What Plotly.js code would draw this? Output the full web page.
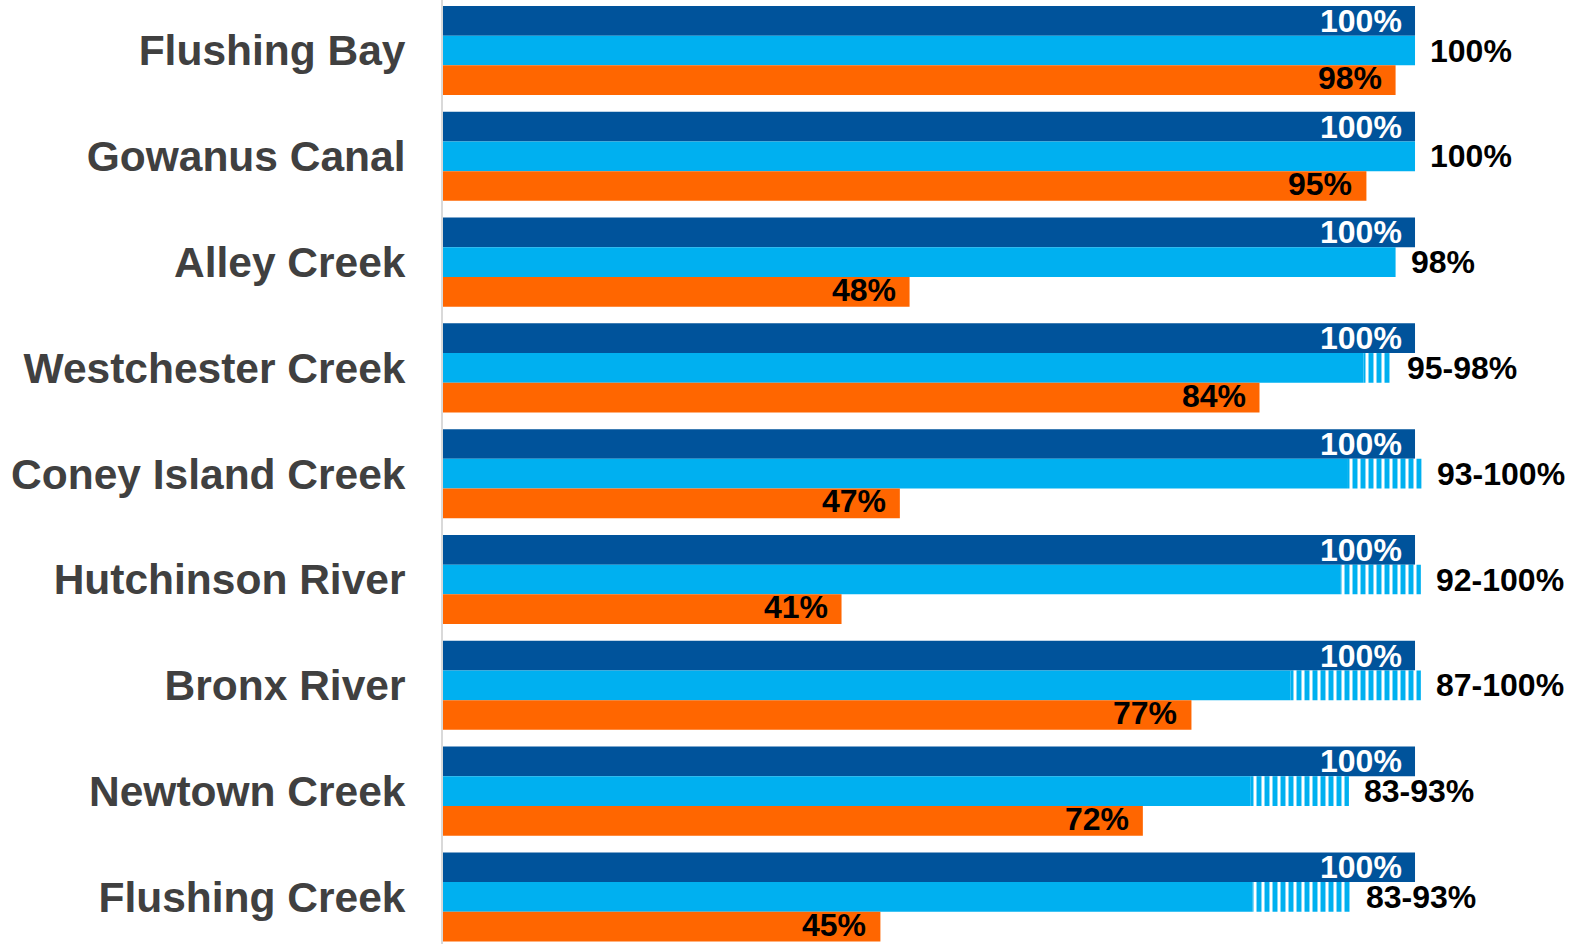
<!DOCTYPE html>
<html>
<head>
<meta charset="utf-8">
<script src="https://cdn.plot.ly/plotly-3.0.1.min.js"></script>
<style>
  html, body { margin: 0; padding: 0; background: #ffffff; }
  #chart { width: 1572px; height: 944px; }
</style>
</head>
<body>
<div id="chart"></div>
<script>
// ---- data ----
var categories = ["Flushing Bay", "Gowanus Canal", "Alley Creek", "Westchester Creek",
  "Coney Island Creek", "Hutchinson River", "Bronx River", "Newtown Creek", "Flushing Creek"];
var darkValues = [100, 100, 100, 100, 100, 100, 100, 100, 100];
var lightValues = [100, 100, 98, 94.7, 93.1, 92.3, 87.2, 83.1, 83.3];
var rangeHigh = [null, null, null, 97.6, 100.7, 100.6, 100.6, 93.2, 93.4];
var orangeValues = [98, 95, 48, 84, 47, 41, 77, 72, 45];
var darkLabels = ["100%", "100%", "100%", "100%", "100%", "100%", "100%", "100%", "100%"];
var lightLabels = ["100%", "100%", "98%", "95-98%", "93-100%", "92-100%", "87-100%", "83-93%", "83-93%"];
var orangeLabels = ["98%", "95%", "48%", "84%", "47%", "41%", "77%", "72%", "45%"];

// ---- style ----
var DARK = "#00539B", LIGHT = "#00B0F0", ORANGE = "#FF6600";
var FONT = "Liberation Sans, Arial, sans-serif";
var bargap = 0.158;
var w = (1 - bargap) / 3;

var rangeLen = rangeHigh.map(function (h, i) { return h == null ? null : h - lightValues[i]; });

var traces = [
  { type: "bar", orientation: "h", y: categories, x: darkValues, offsetgroup: "a",
    marker: { color: DARK, line: { width: 0 } }, hoverinfo: "skip" },
  { type: "bar", orientation: "h", y: categories, x: lightValues, offsetgroup: "b",
    marker: { color: LIGHT, line: { width: 0 } }, hoverinfo: "skip" },
  { type: "bar", orientation: "h", y: categories, x: rangeLen, base: lightValues, offsetgroup: "b",
    marker: { color: LIGHT, line: { width: 0 },
      pattern: { shape: "|", fgcolor: "#ffffff", bgcolor: LIGHT, fgopacity: 1,
                 size: 8, solidity: 0.38, fillmode: "overlay" } },
    hoverinfo: "skip" },
  { type: "bar", orientation: "h", y: categories, x: orangeValues, offsetgroup: "c",
    marker: { color: ORANGE, line: { width: 0 } }, hoverinfo: "skip" }
];

var annotations = [];
var lblFont = { family: FONT, size: 32, weight: 700 };
categories.forEach(function (c, i) {
  annotations.push({ xref: "x", yref: "y", x: darkValues[i], y: i - w, text: darkLabels[i],
    showarrow: false, xanchor: "right", yanchor: "middle", xshift: -11,
    font: Object.assign({}, lblFont, { color: "#ffffff" }) });
  var end = rangeHigh[i] == null ? lightValues[i] : rangeHigh[i];
  annotations.push({ xref: "x", yref: "y", x: end, y: i, text: lightLabels[i],
    showarrow: false, xanchor: "left", yanchor: "middle", xshift: 13,
    font: Object.assign({}, lblFont, { color: "#000000" }) });
  annotations.push({ xref: "x", yref: "y", x: orangeValues[i], y: i + w, text: orangeLabels[i],
    showarrow: false, xanchor: "right", yanchor: "middle", xshift: -13, yshift: 2,
    borderpad: 0,
    font: Object.assign({}, lblFont, { color: "#000000" }) });
});

var layout = {
  width: 1572, height: 944,
  margin: { l: 443, r: 0, t: 0, b: 0 },
  paper_bgcolor: "#ffffff", plot_bgcolor: "#ffffff",
  barmode: "group", bargap: bargap, bargroupgap: 0,
  showlegend: false,
  xaxis: { range: [0, 116.15], visible: false, showgrid: false, zeroline: false, fixedrange: true },
  yaxis: {
    type: "category", autorange: false, range: [8.4449, -0.4773],
    showgrid: false, zeroline: false, ticks: "",
    showline: true, linecolor: "#D9D9D9", linewidth: 2,
    ticklabelstandoff: 27,
    tickfont: { family: FONT, size: 42.5, weight: 700, color: "#404040" },
    fixedrange: true
  },
  annotations: annotations,
  font: { family: FONT }
};

Plotly.newPlot("chart", traces, layout, { displayModeBar: false, staticPlot: true });
</script>
</body>
</html>
